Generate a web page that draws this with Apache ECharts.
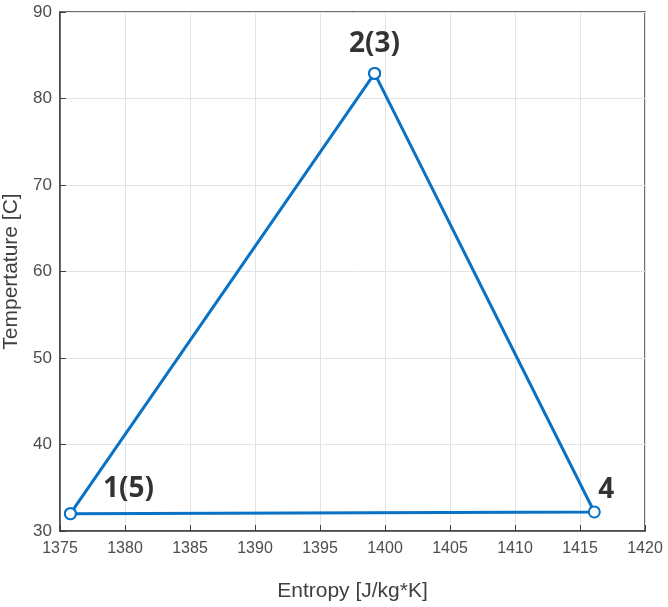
<!DOCTYPE html>
<html>
<head>
<meta charset="utf-8">
<script src="https://cdn.jsdelivr.net/npm/echarts@6/dist/echarts.min.js"></script>
<style>html,body{margin:0;padding:0;background:#fff}#c{width:668px;height:607px}</style>
</head>
<body>
<div id="c"></div>
<script>
// Cycle state points (entropy, temperature)
const entropy = [1375.8, 1399.2, 1399.2, 1416.1, 1375.8];
const temperature = [32.0, 82.9, 82.9, 32.2, 32.0];
const pointLabels = ['1(5)', '2(3)', '', '4', ''];
const xTicks = [1375, 1380, 1385, 1390, 1395, 1400, 1405, 1410, 1415, 1420];
const yTicks = [30, 40, 50, 60, 70, 80, 90];
const xTitle = 'Entropy [J/kg*K]';
const yTitle = 'Tempertature [C]';

const labelOffsets = [[58, -25], [0, -29], [0, 0], [12, -22], [0, 0]];

const lineData = entropy.map((x, i) => [x, temperature[i]]);
const labelData = entropy.map((x, i) => ({
  value: [x, temperature[i]],
  label: { show: pointLabels[i] !== '', formatter: pointLabels[i], offset: labelOffsets[i] }
}));

const chart = echarts.init(document.getElementById('c'));
chart.setOption({
  animation: false,
  backgroundColor: '#fff',
  grid: { left: 60, right: 23, top: 12, bottom: 76, containLabel: false, outerBoundsMode: 'none',
          show: true, borderColor: '#404040', borderWidth: 1.5, backgroundColor: 'transparent' },
  xAxis: {
    type: 'value', min: xTicks[0], max: xTicks[xTicks.length - 1], interval: 5,
    name: xTitle, nameLocation: 'middle', nameGap: 50,
    nameTextStyle: { fontFamily: 'Liberation Sans', fontSize: 21, color: '#404040' },
    axisLine: { show: true, lineStyle: { color: '#404040', width: 1.5 } },
    axisTick: { show: true, inside: true, length: 6, lineStyle: { color: '#404040' } },
    axisLabel: { margin: 10, fontFamily: 'Liberation Sans', fontSize: 16, color: '#4d4d4d',
                 formatter: v => String(v) },
    splitLine: { show: true, lineStyle: { color: '#e3e3e3', width: 1 } }
  },
  yAxis: {
    type: 'value', min: yTicks[0], max: yTicks[yTicks.length - 1], interval: 10,
    name: yTitle, nameLocation: 'middle', nameGap: 35,
    nameTextStyle: { fontFamily: 'Liberation Sans', fontSize: 21, color: '#404040' },
    axisLine: { show: true, lineStyle: { color: '#404040', width: 1.5 } },
    axisTick: { show: true, inside: true, length: 6, lineStyle: { color: '#404040' } },
    axisLabel: { margin: 8, fontFamily: 'Liberation Sans', fontSize: 17, color: '#4d4d4d',
                 formatter: v => String(v) },
    splitLine: { show: true, lineStyle: { color: '#e3e3e3', width: 1 } }
  },
  series: [
    {
      type: 'line', data: lineData,
      symbol: 'emptyCircle', symbolSize: 11,
      lineStyle: { color: '#0a72c4', width: 3 },
      itemStyle: { color: '#0a72c4', borderWidth: 2.5 },
      z: 3
    },
    {
      type: 'scatter', data: labelData, symbolSize: 1,
      itemStyle: { color: 'rgba(0,0,0,0)' },
      label: { position: 'inside', fontFamily: 'Noto Sans', fontWeight: 'bold', fontSize: 28, color: '#000' },
      silent: true, z: 5
    }
  ]
});
</script>
</body>
</html>
